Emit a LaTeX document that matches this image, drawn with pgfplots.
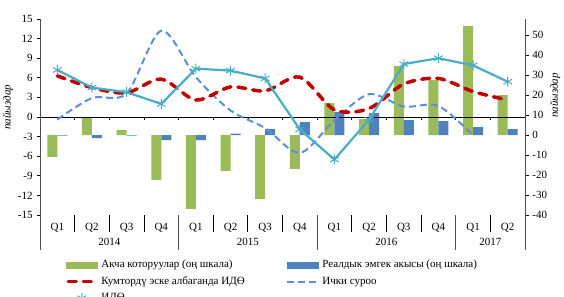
\documentclass[border=0pt]{standalone}
\usepackage{fontspec}
\setmainfont{Liberation Serif}
\usepackage{pgfplots}
\pgfplotsset{compat=1.18}
\definecolor{cgreen}{HTML}{9BBB59}
\definecolor{cblue}{HTML}{4F81BD}
\definecolor{cred}{HTML}{C00000}
\definecolor{cdash}{HTML}{5B8FD8}
\definecolor{ccyan}{HTML}{4BACC6}
\begin{document}
\fontsize{11bp}{13bp}\selectfont
\begin{tikzpicture}
\useasboundingbox (0,0) rectangle (564bp,297bp);
% right axis: bars
\begin{axis}[
  at={(40bp,82bp)}, anchor=south west,
  scale only axis, width=485bp, height=196bp,
  xmin=-0.5, xmax=13.5, ymin=-40, ymax=58,
  axis y line*=right, axis x line=none,
  ytick={-40,-30,...,50},
  tick align=outside, major tick length=3.5bp,
  tick style={black, line width=0.6bp},
  axis line style={black!70, line width=0.8bp},
  yticklabel style={font=\fontsize{11bp}{13bp}\selectfont},
  /pgf/number format/assume math mode=true,
  clip=false,
]
\addplot[ybar, bar width=10bp, bar shift=-5bp, fill=cgreen, draw=none] coordinates {
(0,-11) (1,9) (2,2.5) (3,-22.5) (4,-37) (5,-18) (6,-32) (7,-17)
(8,16) (9,8) (10,34.5) (11,27.5) (12,54.5) (13,20)};
\addplot[ybar, bar width=10bp, bar shift=5bp, fill=cblue, draw=none] coordinates {
(0,-0.3) (1,-1.5) (2,-0.3) (3,-2.5) (4,-2.5) (5,0.7) (6,3) (7,6.5)
(8,11.5) (9,11) (10,7.5) (11,7) (12,3.9) (13,2.9)};
\node[rotate=90, font=\fontsize{11bp}{13bp}\selectfont\itshape] at (axis description cs:1.062,0.61) {пайыздар};
\end{axis}
% left axis: lines
\begin{axis}[
  at={(40bp,82bp)}, anchor=south west,
  scale only axis, width=485bp, height=196bp,
  xmin=-0.5, xmax=13.5, ymin=-15, ymax=15,
  axis y line*=left, axis x line*=bottom,
  x axis line style={draw=none},
  axis line style={black!70, line width=0.8bp},
  xtick={0,...,13},
  xticklabels={Q1,Q2,Q3,Q4,Q1,Q2,Q3,Q4,Q1,Q2,Q3,Q4,Q1,Q2},
  xtick style={draw=none},
  xticklabel style={font=\fontsize{11bp}{13bp}\selectfont, anchor=base, yshift=-12bp},
  ytick={-15,-12,...,15},
  tick align=outside, major tick length=3.5bp,
  ytick style={black, line width=0.6bp},
  yticklabel style={font=\fontsize{11bp}{13bp}\selectfont},
  /pgf/number format/assume math mode=true,
  clip=false,
  legend columns=2,
  legend style={at={(0.0515,-0.227)}, anchor=north west, draw=none, inner sep=0pt,
    font=\fontsize{11bp}{13bp}\selectfont, row sep=5.5bp,
    nodes={inner xsep=3bp, inner ysep=0pt, text height=8bp, text depth=3bp}},
  legend cell align=left,
]
\node[rotate=90, font=\fontsize{11bp}{13bp}\selectfont\itshape] at (axis description cs:-0.066,0.55) {пайыздар};
\draw[black, line width=0.8bp] (axis cs:-0.5,0) -- (axis cs:13.5,0);
\pgfplotsinvokeforeach{0.5,1.5,2.5,3.5,4.5,5.5,6.5,7.5,8.5,9.5,10.5,11.5,12.5}{
  \draw[black, line width=0.6bp] (axis cs:#1,0) -- ([yshift=-3bp]axis cs:#1,0);
}
\pgfplotsinvokeforeach{0.5,1.5,2.5,4.5,5.5,6.5,8.5,9.5,10.5,12.5}{
  \draw[black, line width=0.8bp] (axis cs:#1,-15) -- ([yshift=-17bp]axis cs:#1,-15);
}
\pgfplotsinvokeforeach{-0.5,3.5,7.5,11.5,13.5}{
  \draw[black!70, line width=0.8bp] (axis cs:#1,-15) -- ([yshift=-35bp]axis cs:#1,-15);
}
\node[font=\fontsize{11bp}{13bp}\selectfont] at (axis cs:1.5,-15) [yshift=-27bp] {2014};
\node[font=\fontsize{11bp}{13bp}\selectfont] at (axis cs:5.5,-15) [yshift=-27bp] {2015};
\node[font=\fontsize{11bp}{13bp}\selectfont] at (axis cs:9.5,-15) [yshift=-27bp] {2016};
\node[font=\fontsize{11bp}{13bp}\selectfont] at (axis cs:12.5,-15) [yshift=-27bp] {2017};

\addplot[forget plot, cdash, line width=2bp, dash pattern=on 7bp off 4bp, smooth] coordinates {
(0,-0.4) (1,2.9) (2,3.6) (3,13.2) (4,6.1) (5,1.0) (6,-1.7) (7,-5.5)
(8,-0.5) (9,3.5) (10,1.6) (11,1.7) (12,-2.8)};
\addplot[forget plot, cred, line width=3.5bp, dash pattern=on 8bp off 7bp, line cap=round, smooth] coordinates {
(0,6.3) (1,4.5) (2,3.7) (3,5.8) (4,2.6) (5,4.6) (6,4.0) (7,6.1)
(8,1.1) (9,1.3) (10,5.05) (11,5.9) (12,3.9) (13,2.6)};
\addplot[forget plot, ccyan, line width=2.2bp, mark=asterisk, mark size=5bp, mark options={line width=1bp}] coordinates {
(0,7.2) (1,4.5) (2,3.8) (3,2.0) (4,7.4) (5,7.1) (6,5.9) (7,-1.9)
(8,-6.5) (9,-0.4) (10,8.1) (11,9.0) (12,7.9) (13,5.4)};

\addlegendimage{legend image code/.code={\fill[cgreen] (0bp,-3.3bp) rectangle (31bp,3.3bp);}}
\addlegendentry{\makebox[182bp][l]{Акча которуулар (оң шкала)}}
\addlegendimage{legend image code/.code={\fill[cblue] (0bp,-3.3bp) rectangle (31bp,3.3bp);}}
\addlegendentry{Реалдык эмгек акысы (оң шкала)}
\addlegendimage{legend image code/.code={\draw[cred, line width=3.5bp, dash pattern=on 8bp off 7bp, line cap=round] (2bp,0) -- (29bp,0);}}
\addlegendentry{\makebox[182bp][l]{Кумтордү эске албаганда ИДӨ}}
\addlegendimage{legend image code/.code={\draw[cdash, line width=2bp, dash pattern=on 7bp off 4bp] (0bp,0) -- (31bp,0);}}
\addlegendentry{Ички суроо}
\addlegendimage{legend image code/.code={\draw[ccyan, line width=2.2bp] (0bp,0) -- (31bp,0); \draw[ccyan, line width=1bp] plot[mark=asterisk, mark size=5bp] coordinates {(15.5bp,0)};}}
\addlegendentry{\makebox[182bp][l]{ИДӨ}}
\end{axis}
\end{tikzpicture}
\end{document}
